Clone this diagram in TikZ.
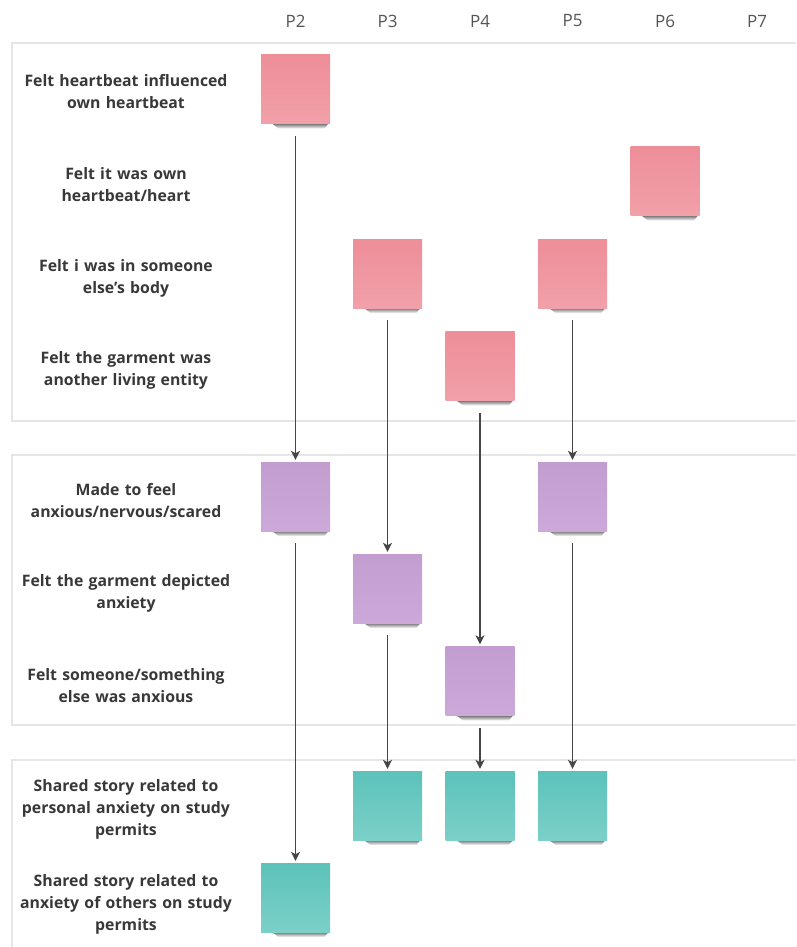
\documentclass[tikz,border=0pt]{standalone}
\usepackage{fontspec}
\setmainfont{Open Sans}
\usetikzlibrary{arrows.meta,backgrounds}
\definecolor{pinkT}{HTML}{EE8E99}
\definecolor{pinkB}{HTML}{F1A0A9}
\definecolor{purpT}{HTML}{C39DD0}
\definecolor{purpB}{HTML}{CBA9D9}
\definecolor{tealT}{HTML}{5CC2BA}
\definecolor{tealB}{HTML}{7BD0C8}
\definecolor{panelc}{HTML}{E6E6E6}
\definecolor{labc}{HTML}{383838}
\definecolor{headc}{HTML}{555555}
\definecolor{arrc}{HTML}{454545}
\tikzset{
  sticky/.style={minimum width=69pt,minimum height=69pt,inner sep=0pt,draw=none},
  pinkst/.style={sticky,top color=pinkT,bottom color=pinkB},
  purpst/.style={sticky,top color=purpT,bottom color=purpB},
  tealst/.style={sticky,top color=tealT,bottom color=tealB},
  lab/.style={align=center,text=labc,font=\fontsize{15.8}{22}\selectfont\bfseries,text width=240pt},
  head/.style={text=headc,font=\fontsize{17}{20}\selectfont},
  panel/.style={draw=panelc,line width=1.5pt},
  shad/.style={top color=black!65,bottom color=white},
  arr/.style={draw=arrc,line width=1.2pt,-{Stealth[length=9pt,width=9pt,inset=2.5pt]},shorten >=2pt}
}
\newcommand{\stshadow}[1]{\path[shad] ([xshift=10pt,yshift=1pt]#1.south west) -- ([xshift=-1pt,yshift=1pt]#1.south east) -- ([xshift=-6pt,yshift=-5pt]#1.south east) -- ([xshift=18pt,yshift=-5pt]#1.south west) -- cycle;}
\begin{document}
\begin{tikzpicture}[x=1pt,y=-1pt]
\useasboundingbox (0,0) rectangle (796,947);
\clip (0,0) rectangle (796,947);
% panels
\draw[panel] (12,43) rectangle (810,421);
\draw[panel] (12,455) rectangle (810,725);
\draw[panel] (12,760) rectangle (810,990);
% headers
\node[head] (h2) at (295.5,21) {P2};
\node[head] (h3) at (387.5,21) {P3};
\node[head] (h4) at (480,21) {P4};
\node[head] (h5) at (572.5,21) {P5};
\node[head] (h6) at (665,21) {P6};
\node[head] (h7) at (757,21) {P7};
% labels
\node[lab] (l1) at (126,92) {Felt heartbeat influenced\\own heartbeat};
\node[lab] (l2) at (126,185) {Felt it was own\\heartbeat/heart};
\node[lab] (l3) at (126,278) {Felt i was in someone\\else's body};
\node[lab] (l4) at (126,370) {Felt the garment was\\another living entity};
\node[lab] (l5) at (126,501) {Made to feel\\anxious/nervous/scared};
\node[lab] (l6) at (126,593) {Felt the garment depicted\\anxiety};
\node[lab] (l7) at (126,686) {Felt someone/something\\else was anxious};
\node[lab] (l8) at (126,809) {Shared story related to\\personal anxiety on study\\permits};
\node[lab] (l9) at (126,904) {Shared story related to\\anxiety of others on study\\permits};
% stickies
\node[pinkst] (a2) at (295.5,89) {};
\node[pinkst] (b6) at (665,181) {};
\node[pinkst] (c3) at (387.5,273.5) {};
\node[pinkst] (c5) at (572.5,273.5) {};
\node[pinkst] (d4) at (480,366) {};
\node[purpst] (e2) at (295.5,496.5) {};
\node[purpst] (e5) at (572.5,496.5) {};
\node[purpst] (f3) at (387.5,588.5) {};
\node[purpst] (g4) at (480,681) {};
\node[tealst] (h3s) at (387.5,805.5) {};
\node[tealst] (h4s) at (480,805.5) {};
\node[tealst] (h5s) at (572.5,805.5) {};
\node[tealst] (i2) at (295.5,897.5) {};
\begin{scope}[on background layer]
\foreach \s in {a2,b6,c3,c5,d4,e2,e5,f3,g4,h3s,h4s,h5s,i2} {\stshadow{\s}}
\end{scope}
% arrows
\draw[arr] ([yshift=-12pt]a2.south) -- (e2.north);
\draw[arr] ([yshift=-12pt]e2.south) -- (i2.north);
\draw[arr] ([yshift=-12pt]c3.south) -- (f3.north);
\draw[arr] ([yshift=-12pt]f3.south) -- (h3s.north);
\draw[arr] ([yshift=-12pt]d4.south) -- (g4.north);
\draw[arr] ([yshift=-12pt]g4.south) -- (h4s.north);
\draw[arr] ([yshift=-12pt]c5.south) -- (e5.north);
\draw[arr] ([yshift=-12pt]e5.south) -- (h5s.north);
\end{tikzpicture}
\end{document}
